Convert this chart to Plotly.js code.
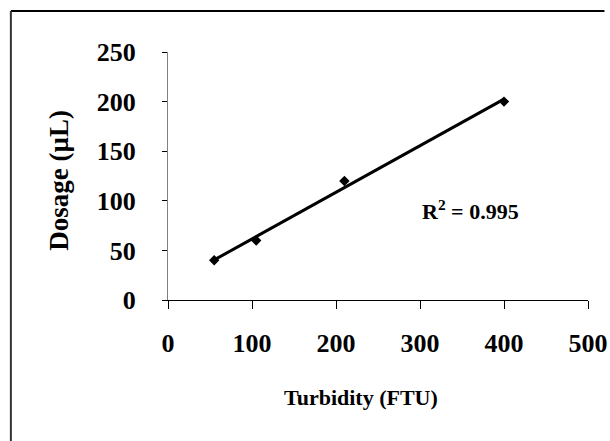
<!DOCTYPE html>
<html>
<head>
<meta charset="utf-8">
<script src="https://cdn.plot.ly/plotly-3.0.1.min.js"></script>
<style>html,body{margin:0;padding:0;background:#fff;}#chart{width:610px;height:441px;}</style>
</head>
<body>
<div id="chart"></div>
<script>
// Data
const turbidity = [55, 105, 210, 400];      // FTU
const dosage = [40, 60, 120, 200];          // µL
const xTicks = [0, 100, 200, 300, 400, 500];
const yTicks = [0, 50, 100, 150, 200, 250];
const r2Label = "R<sup>2</sup> = 0.995";
const xTitle = "Turbidity (FTU)";
const yTitle = "Dosage (µL)";

// Linear least-squares trend line from the data
const n = turbidity.length;
const mx = turbidity.reduce((a, b) => a + b, 0) / n;
const my = dosage.reduce((a, b) => a + b, 0) / n;
let sxy = 0, sxx = 0;
for (let i = 0; i < n; i++) { sxy += (turbidity[i] - mx) * (dosage[i] - my); sxx += (turbidity[i] - mx) ** 2; }
const slope = sxy / sxx, intercept = my - slope * mx;
const trendX = [Math.min(...turbidity), Math.max(...turbidity)];
const trendY = trendX.map(x => intercept + slope * x);

const font = "Liberation Serif, Times New Roman, serif";

const traces = [
  {x: trendX, y: trendY, mode: "lines", type: "scatter",
   line: {color: "#000", width: 3}, hoverinfo: "skip", showlegend: false},
  {x: turbidity, y: dosage, mode: "markers", type: "scatter",
   marker: {symbol: "diamond", size: 8, color: "#000"}, showlegend: false}
];

const layout = {
  width: 610, height: 441,
  margin: {l: 167.5, r: 21.5, t: 52, b: 141},
  paper_bgcolor: "#fff", plot_bgcolor: "#fff",
  showlegend: false,
  font: {family: font, color: "#000", weight: "bold"},
  xaxis: {
    range: [0, 500], tickvals: xTicks, ticktext: xTicks.map(String),
    showgrid: false, zeroline: false, showline: true, linecolor: "#000", linewidth: 1,
    ticks: "outside", ticklen: 8, tickcolor: "#000", tickwidth: 1,
    tickfont: {family: font, size: 26, color: "#000", weight: "bold"},
    ticklabelstandoff: 12, fixedrange: true
  },
  yaxis: {
    range: [0, 250], tickvals: yTicks, ticktext: yTicks.map(String),
    showgrid: false, zeroline: false, showline: true, linecolor: "#808080", linewidth: 1,
    ticks: "outside", ticklen: 5, tickcolor: "#000", tickwidth: 1,
    tickfont: {family: font, size: 26, color: "#000", weight: "bold"},
    ticklabelstandoff: 21, fixedrange: true
  },
  annotations: [
    {xref: "x", yref: "y", x: 360, y: 91, text: r2Label, showarrow: false,
     font: {family: font, size: 22, color: "#000", weight: "bold"}, xanchor: "center", yanchor: "middle"},
    {xref: "paper", yref: "paper", x: (361 - 167.5) / 421, y: -(398 - 300) / 248, text: xTitle,
     showarrow: false, xanchor: "center", yanchor: "middle",
     font: {family: font, size: 22, color: "#000", weight: "bold"}},
    {xref: "paper", yref: "paper", x: (58 - 167.5) / 421, y: (300 - 180) / 248, text: yTitle,
     showarrow: false, xanchor: "center", yanchor: "middle", textangle: -90,
     font: {family: font, size: 27, color: "#000", weight: "bold"}}
  ],
  shapes: [
    {type: "line", xref: "paper", yref: "paper",
     x0: (10 - 167.5) / 421, x1: (605 - 167.5) / 421, y0: (300 - 11) / 248, y1: (300 - 11) / 248,
     line: {color: "#000", width: 2}},
    {type: "line", xref: "paper", yref: "paper",
     x0: (10 - 167.5) / 421, x1: (10 - 167.5) / 421, y0: (300 - 11) / 248, y1: (300 - 445) / 248,
     line: {color: "#333", width: 2}}
  ]
};

Plotly.newPlot("chart", traces, layout, {displayModeBar: false, staticPlot: true});
</script>
</body>
</html>
